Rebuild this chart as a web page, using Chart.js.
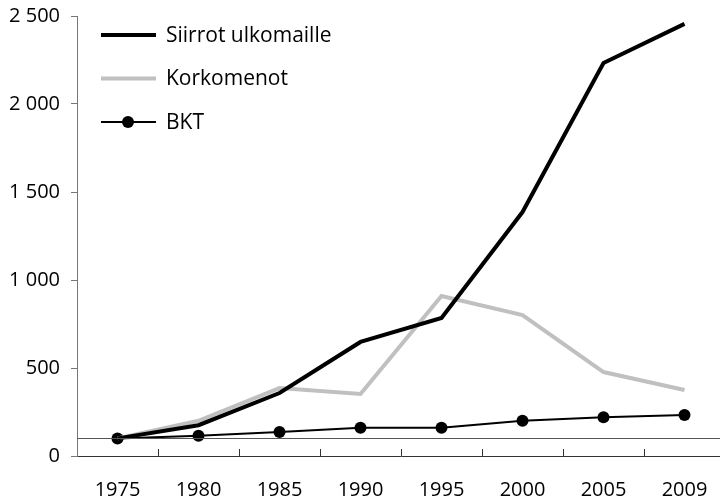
<!DOCTYPE html>
<html>
<head>
<meta charset="utf-8">
<script src="https://cdn.jsdelivr.net/npm/chart.js@4.4.0/dist/chart.umd.min.js"></script>
<style>
  html, body { margin: 0; padding: 0; background: #fff; }
  #wrap { width: 720px; height: 500px; overflow: hidden; }
</style>
</head>
<body>
<div id="wrap"><canvas id="chart" width="731" height="500"></canvas></div>
<script>
const years = ["1975", "1980", "1985", "1990", "1995", "2000", "2005", "2009"];
const siirrot = [100, 175, 358, 648, 784, 1386, 2233, 2455];
const korkomenot = [100, 200, 386, 352, 909, 801, 477, 375];
const bkt = [100, 115, 136, 160, 160, 200, 220, 233];
const yTicks = [0, 500, 1000, 1500, 2000, 2500];
const baseLine = 100;

const FONT = "'Open Sans', 'DejaVu Sans', sans-serif";

// format 2500 -> "2 500"
function fmt(v) {
  return String(v).replace(/\B(?=(\d{3})+(?!\d))/g, " ");
}

// legend inside plot, reference line at 100 and inward x ticks
const extras = {
  id: "extras",
  afterDraw(chart) {
    const ctx = chart.ctx;
    const x = chart.scales.x;
    const y = chart.scales.y;
    const area = chart.chartArea;
    ctx.save();

    // reference line
    const yb = y.getPixelForValue(baseLine);
    ctx.strokeStyle = "#555";
    ctx.lineWidth = 1;
    ctx.beginPath();
    ctx.moveTo(area.left, Math.round(yb) + 0.5);
    ctx.lineTo(chart.width, Math.round(yb) + 0.5);
    ctx.stroke();

    // x tick marks between categories, pointing up
    ctx.strokeStyle = "#333";
    for (let i = 0; i < years.length - 1; i++) {
      const px = Math.round((x.getPixelForValue(i) + x.getPixelForValue(i + 1)) / 2) + 0.5;
      ctx.beginPath();
      ctx.moveTo(px, area.bottom);
      ctx.lineTo(px, area.bottom - 7);
      ctx.stroke();
    }

    // legend
    const items = [
      { label: "Siirrot ulkomaille", color: "#000", width: 4, dot: false },
      { label: "Korkomenot", color: "#c0c0c0", width: 4, dot: false },
      { label: "BKT", color: "#000", width: 2, dot: true }
    ];
    ctx.font = "21px " + FONT;
    ctx.textBaseline = "middle";
    items.forEach((it, i) => {
      const cy = 35 + i * 43.5;
      ctx.strokeStyle = it.color;
      ctx.lineWidth = it.width;
      ctx.beginPath();
      ctx.moveTo(101, cy);
      ctx.lineTo(156, cy);
      ctx.stroke();
      if (it.dot) {
        ctx.fillStyle = "#000";
        ctx.beginPath();
        ctx.arc(128, cy, 6, 0, Math.PI * 2);
        ctx.fill();
      }
      ctx.fillStyle = "#000";
      ctx.fillText(it.label, 166, cy + 1);
    });
    ctx.restore();
  }
};

const ctx = document.getElementById("chart").getContext("2d");
new Chart(ctx, {
  type: "line",
  data: {
    labels: years,
    datasets: [
      {
        label: "Siirrot ulkomaille",
        data: siirrot,
        borderColor: "#000",
        borderWidth: 4,
        pointRadius: 0,
        tension: 0
      },
      {
        label: "Korkomenot",
        data: korkomenot,
        borderColor: "#c0c0c0",
        borderWidth: 4,
        pointRadius: 0,
        tension: 0
      },
      {
        label: "BKT",
        data: bkt,
        borderColor: "#000",
        backgroundColor: "#000",
        borderWidth: 2,
        pointRadius: 6,
        pointBorderWidth: 0,
        tension: 0
      }
    ]
  },
  options: {
    responsive: false,
    animation: false,
    layout: { padding: { top: 16, right: 0, bottom: 0, left: 0 } },
    plugins: {
      legend: { display: false },
      tooltip: { enabled: false }
    },
    scales: {
      x: {
        offset: true,
        grid: { display: false },
        border: { display: true, color: "#333", width: 1 },
        ticks: {
          color: "#000",
          font: { family: FONT, size: 20 },
          padding: 14,
          maxRotation: 0
        },
        afterFit(s) {
          s.height = 44;
          s.paddingLeft = 0;
          s.paddingRight = 0;
        }
      },
      y: {
        min: 0,
        max: 2500,
        afterBuildTicks(s) { s.ticks = yTicks.map(v => ({ value: v })); },
        grid: { drawOnChartArea: false, drawTicks: true, tickLength: 6, color: "#777" },
        border: { display: true, color: "#777", width: 1 },
        ticks: {
          color: "#000",
          font: { family: FONT, size: 20 },
          padding: 11,
          callback: v => fmt(v)
        },
        afterFit(s) {
          s.width = 77;
          s.paddingTop = 0;
          s.paddingBottom = 0;
        }
      }
    }
  },
  plugins: [extras]
});
</script>
</body>
</html>
